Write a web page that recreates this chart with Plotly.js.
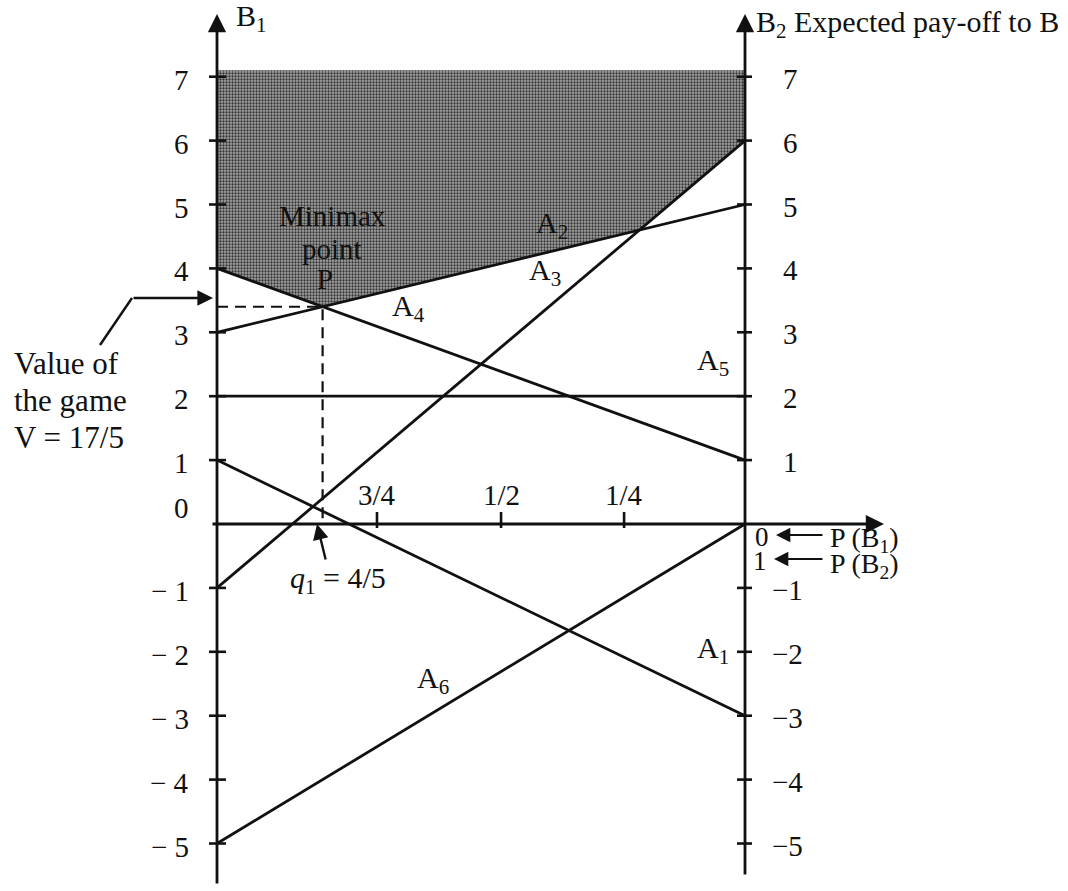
<!DOCTYPE html>
<html><head><meta charset="utf-8">
<script src="https://cdn.plot.ly/plotly-3.0.1.min.js"></script>
<style>html,body{margin:0;padding:0;background:#fff}#chart{width:1068px;height:891px}</style>
</head><body><div id="chart"></div>
<script>
// ---- data ----
const strategyNames = ['A1', 'A2', 'A3', 'A4', 'A5', 'A6'];
const payoffWhenB1 = [1, 3, -1, 4, 2, -5];   // left axis  (P(B1) = 1)
const payoffWhenB2 = [-3, 5, 6, 1, 2, 0];    // right axis (P(B2) = 1)
const leftTickValues = [-5, -4, -3, -2, -1, 0, 1, 2, 3, 4, 5, 6, 7];
const leftTickLabels = ['\u2212 5', '\u2212 4', '\u2212 3', '\u2212 2', '\u2212 1', '0', '1', '2', '3', '4', '5', '6', '7'];
const rightTickValues = [-5, -4, -3, -2, -1, 1, 2, 3, 4, 5, 6, 7];
const rightTickLabels = ['\u22125', '\u22124', '\u22123', '\u22122', '\u22121', '1', '2', '3', '4', '5', '6', '7'];
const xTickValues = [0.303, 0.538, 0.771];
const xTickLabels = ['3/4', '1/2', '1/4'];
const shadeTop = 7.1;

// ---- pixel frame (figure fills the page) ----
const W = 1068, H = 891;
const X0 = 217, XS = 528, Y0 = 524, YS = 63.9;
const px2t = px => (px - X0) / XS;
const py2v = py => (Y0 - py) / YS;

const FONT = 'Liberation Serif, Times New Roman, serif';
const INK = '#111';

// ---- upper envelope and minimax point ----
const n = strategyNames.length;
const val = (i, t) => payoffWhenB1[i] + (payoffWhenB2[i] - payoffWhenB1[i]) * t;
let bps = [0, 1];
for (let i = 0; i < n; i++) for (let j = i + 1; j < n; j++) {
  const si = payoffWhenB2[i] - payoffWhenB1[i], sj = payoffWhenB2[j] - payoffWhenB1[j];
  if (si !== sj) {
    const t = (payoffWhenB1[j] - payoffWhenB1[i]) / (si - sj);
    if (t > 0 && t < 1) bps.push(t);
  }
}
bps = [...new Set(bps.map(t => +t.toFixed(9)))].sort((a, b) => a - b);
const env = bps.map(t => [t, Math.max(...strategyNames.map((_, i) => val(i, t)))]);
let mm = env[0];
env.forEach(p => { if (p[1] < mm[1]) mm = p; });
const tP = mm[0], V = mm[1];

const traces = [];
// shaded region above upper envelope
traces.push({
  x: env.map(p => p[0]).concat([1, 0]),
  y: env.map(p => p[1]).concat([shadeTop, shadeTop]),
  mode: 'lines', fill: 'toself', line: {width: 0},
  fillcolor: '#828282',
  fillpattern: {shape: '.', size: 3, solidity: 0.45, fgcolor: '#333333', bgcolor: '#a4a4a4'},
  hoverinfo: 'skip'
});
// strategy lines
strategyNames.forEach((nm, i) => {
  traces.push({
    x: [0, 1], y: [payoffWhenB1[i], payoffWhenB2[i]], mode: 'lines',
    line: {color: INK, width: 2.8}, name: nm, hoverinfo: 'skip'
  });
});
// dashed guides to the minimax point
traces.push({
  x: [0, tP, tP], y: [V, V, 0], mode: 'lines',
  line: {color: INK, width: 2.2, dash: '11px,7px'}, hoverinfo: 'skip'
});
// tick marks
const tx = [], ty = [];
leftTickValues.forEach(v => { if (v !== 0) { tx.push(px2t(209), px2t(226), null); ty.push(v, v, null); } });
rightTickValues.forEach(v => { tx.push(px2t(737), px2t(752), null); ty.push(v, v, null); });
xTickValues.forEach(t => { tx.push(t, t, null); ty.push(py2v(512), py2v(528), null); });
traces.push({x: tx, y: ty, mode: 'lines', line: {color: INK, width: 2.6}, hoverinfo: 'skip'});
// leader of "Value of the game"
traces.push({x: [px2t(100), px2t(132)], y: [py2v(345), py2v(298)], mode: 'lines',
  line: {color: INK, width: 2.4}, hoverinfo: 'skip'});

const ann = [];
const arrow = (x1, y1, x2, y2, w) => ({
  x: x2, y: y2, ax: x1, ay: y1, xref: 'x', yref: 'y', axref: 'x', ayref: 'y',
  text: '', showarrow: true, arrowhead: 2, arrowsize: 1.3, arrowwidth: w || 2.8, arrowcolor: INK, standoff: 0
});
// axes
ann.push(arrow(0, py2v(885), 0, py2v(14)));
ann.push(arrow(1, py2v(876), 1, py2v(14)));
ann.push(arrow(px2t(211), 0, px2t(884), 0));
// value arrow, q1 arrow, P(B) arrows
ann.push(arrow(px2t(132), py2v(298), px2t(213), py2v(298), 2.4));
ann.push(arrow(px2t(326), py2v(561), px2t(317), py2v(524), 2.4));
ann.push(arrow(px2t(824), py2v(535), px2t(776), py2v(535), 2.2));
ann.push(arrow(px2t(824), py2v(559), px2t(774), py2v(559), 2.2));

const txt = (text, px, py, size, anchor) => ({
  x: px2t(px), y: py2v(py), xref: 'x', yref: 'y', text: text, showarrow: false,
  xanchor: anchor || 'center', yanchor: 'middle', font: {family: FONT, size: size || 30, color: INK}
});
// left tick labels
leftTickValues.forEach((v, i) => {
  ann.push({x: 0, y: v, xref: 'x', yref: 'y', text: leftTickLabels[i], showarrow: false,
    xanchor: 'right', yanchor: 'middle', xshift: -26, yshift: v === 0 ? 16 : -3,
    font: {family: FONT, size: 29, color: INK}});
});
// right tick labels
rightTickValues.forEach((v, i) => {
  ann.push({x: 1, y: v, xref: 'x', yref: 'y', text: rightTickLabels[i], showarrow: false,
    xanchor: 'center', yanchor: 'middle', xshift: v < 0 ? 42 : 45, yshift: -2,
    font: {family: FONT, size: 29, color: INK}});
});
// x tick labels
xTickValues.forEach((t, i) => {
  ann.push({x: t, y: 0, xref: 'x', yref: 'y', text: xTickLabels[i], showarrow: false,
    xanchor: 'center', yanchor: 'middle', yshift: 29,
    font: {family: FONT, size: 29, color: INK}});
});
// strategy labels
const labelPx = {A1: [713, 650], A2: [552, 225], A3: [545, 272], A4: [408, 308], A5: [713, 362], A6: [433, 680]};
strategyNames.forEach(nm => {
  ann.push(txt(nm.charAt(0) + '<sub>' + nm.slice(1) + '</sub>', labelPx[nm][0], labelPx[nm][1], 30));
});
ann.push(txt('Minimax', 332, 216, 29));
ann.push(txt('point', 332, 249, 29));
ann.push(txt('P', 325, 279, 29));
ann.push(txt('Value of', 12, 363, 31, 'left'));
ann.push(txt('the game', 12, 400, 31, 'left'));
ann.push(txt('V = 17/5', 12, 437, 31, 'left'));
ann.push(txt('<i>q</i><sub>1</sub> = 4/5', 338, 580, 30));
ann.push(txt('0', 762, 537, 27));
ann.push(txt('1', 760, 561, 27));
ann.push(txt('P (B<sub>1</sub>)', 828, 539, 28, 'left'));
ann.push(txt('P (B<sub>2</sub>)', 828, 565, 28, 'left'));
ann.push(txt('B<sub>1</sub>', 234, 18, 30, 'left'));
ann.push(txt('B<sub>2</sub> Expected pay-off to B', 754, 24, 30, 'left'));

const layout = {
  width: W, height: H, margin: {l: 0, r: 0, t: 0, b: 0},
  paper_bgcolor: '#fff', plot_bgcolor: '#fff', showlegend: false, hovermode: false,
  xaxis: {range: [px2t(0), px2t(W)], visible: false, fixedrange: true},
  yaxis: {range: [py2v(H), py2v(0)], visible: false, fixedrange: true},
  annotations: ann
};
Plotly.newPlot('chart', traces, layout, {staticPlot: true, displayModeBar: false});
</script>
</body></html>
